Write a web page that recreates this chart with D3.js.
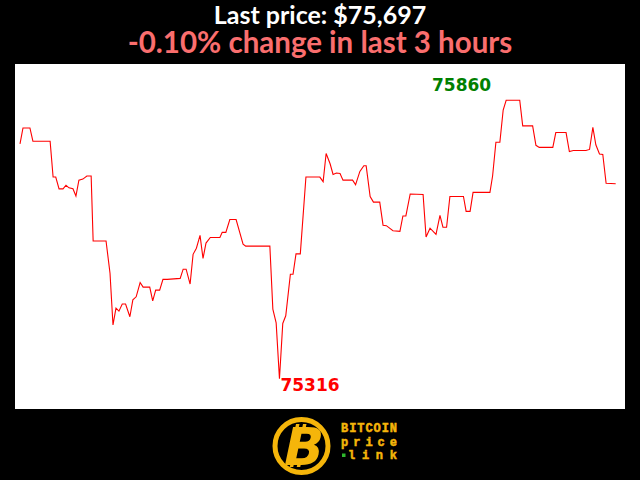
<!DOCTYPE html>
<html><head><meta charset="utf-8">
<script src="https://cdn.jsdelivr.net/npm/d3@7"></script>
<style>html,body{margin:0;padding:0;background:#000;}svg{display:block;}</style>
</head><body>
<script>
// minutes since start of the 3-hour window
const minutes = [0,0.9,3.0,3.9,9.1,10.0,10.8,11.8,13.0,13.9,14.8,16.0,16.9,17.8,19.0,20.2,21.5,22.1,26.0,27.2,28.1,29.0,29.9,30.9,31.9,33.2,34.1,35.1,36.3,37.2,39.2,40.1,41.0,42.2,43.2,44.5,48.4,49.3,50.2,51.4,52.3,53.3,54.4,55.3,56.2,57.5,60.4,61.1,62.2,63.4,65.3,67.4,68.2,75.5,76.4,77.4,78.4,79.4,80.3,81.7,82.5,83.4,84.7,86.4,90.6,91.6,92.5,93.7,94.6,95.6,96.7,97.6,100.5,101.4,102.7,103.9,104.6,105.8,106.8,108.7,109.7,110.7,112.7,114.8,115.7,116.6,117.9,121.8,122.7,123.9,125.7,126.9,127.8,128.9,129.9,134.0,134.8,136.0,136.9,142.0,142.8,143.8,145.0,146.0,146.9,151.0,151.9,154.9,155.9,156.9,161.0,161.9,165.0,166.0,167.2,171.0,172.1,173.1,174.0,175.1,176.1,177.1,180.0];
const prices = [75775,75806,75806,75780,75780,75710,75710,75687,75687,75694,75689,75687,75673,75704,75706,75712,75712,75585,75585,75522,75421,75454,75448,75462,75462,75437,75470,75476,75504,75495,75495,75468,75489,75489,75510,75510,75512,75530,75530,75501,75559,75571,75596,75551,75581,75592,75592,75602,75602,75627,75627,75579,75575,75575,75452,75425,75316,75424,75439,75520,75520,75560,75560,75710,75710,75701,75756,75736,75715,75718,75717,75704,75704,75695,75721,75732,75732,75672,75661,75661,75616,75615,75605,75604,75634,75634,75677,75676,75593,75610,75598,75635,75612,75612,75672,75672,75643,75643,75680,75680,75712,75778,75778,75841,75860,75860,75810,75810,75772,75768,75768,75797,75797,75760,75762,75762,75764,75807,75773,75755,75754,75698,75697];
const lastPrice = 75697;
const changePct = -0.10;
const titleText = "Last price: $75,697";
const subtitleText = "-0.10% change in last 3 hours";
const logoLines = ["BITCOIN", "price", "link"];

const W = 640, H = 480;
const svg = d3.select("body").append("svg").attr("width", W).attr("height", H);
svg.append("rect").attr("width", W).attr("height", H).attr("fill", "#000");

svg.append("text").attr("x", 320).attr("y", 24).attr("text-anchor", "middle")
  .attr("font-family", "Lato").attr("font-weight", "bold").attr("font-size", 25)
  .attr("fill", "#fff").text(titleText);
svg.append("text").attr("x", 320).attr("y", 53).attr("text-anchor", "middle")
  .attr("font-family", "Lato").attr("font-weight", "bold").attr("font-size", 29.5)
  .attr("fill", "#fa6e6e").text(subtitleText);

// plot area
svg.append("rect").attr("x", 15).attr("y", 64).attr("width", 610).attr("height", 345).attr("fill", "#fff");

const data = minutes.map((m, i) => ({m, p: prices[i]}));
const minP = d3.min(prices), maxP = d3.max(prices);
const x = d3.scaleLinear().domain([0, 180]).range([20, 615.7]);
const y = d3.scaleLinear().domain([minP, maxP]).range([378.7, 100.3]);

svg.append("path").datum(data)
  .attr("d", d3.line().x(d => x(d.m)).y(d => y(d.p)))
  .attr("fill", "none").attr("stroke", "#ff0000").attr("stroke-width", 1.1);

const maxD = data.find(d => d.p === maxP);
const minD = data.find(d => d.p === minP);
svg.append("text").attr("x", x(maxD.m) - 15).attr("y", y(maxD.p) - 9).attr("text-anchor", "end")
  .attr("font-family", "DejaVu Sans").attr("font-weight", "bold").attr("font-size", 17)
  .attr("fill", "#008000").text(maxP);
svg.append("text").attr("x", x(minD.m) + 1).attr("y", y(minD.p) + 12).attr("text-anchor", "start")
  .attr("font-family", "DejaVu Sans").attr("font-weight", "bold").attr("font-size", 17)
  .attr("fill", "#ff0000").text(minP);

// logo
const gold = "#f5b50a";
const lg = svg.append("g");
lg.append("circle").attr("cx", 301.5).attr("cy", 446).attr("r", 26.5)
  .attr("fill", "#000").attr("stroke", gold).attr("stroke-width", 5);
// bitcoin bars
[[296, 424], [303, 424], [291, 461], [298, 461]].forEach(([bx, by]) => {
  lg.append("rect").attr("x", bx).attr("y", by).attr("width", 3.5).attr("height", 6).attr("fill", gold)
    .attr("transform", `skewX(-12) translate(${by * 0.2126},0)`);
});
lg.append("text").attr("x", 304).attr("y", 465).attr("text-anchor", "middle")
  .attr("font-family", "DejaVu Sans").attr("font-weight", "bold").attr("font-size", 52)
  .attr("fill", gold).attr("transform", "skewX(-12) translate(94.8,0)").text("B");
const ly = [432, 446, 459];
logoLines.forEach((t, i) => {
  lg.append("text").attr("x", i === 2 ? 348 : 341).attr("y", ly[i])
    .attr("font-family", "Liberation Mono").attr("font-weight", "bold").attr("font-size", 12)
    .attr("stroke", gold).attr("stroke-width", 0.5)
    .attr("textLength", i === 2 ? 49 : 56).attr("lengthAdjust", "spacing")
    .attr("fill", gold).text(t);
});
lg.append("rect").attr("x", 342).attr("y", 453.5).attr("width", 3.5).attr("height", 3.5).attr("fill", "#2db82d");
</script>
</body></html>
